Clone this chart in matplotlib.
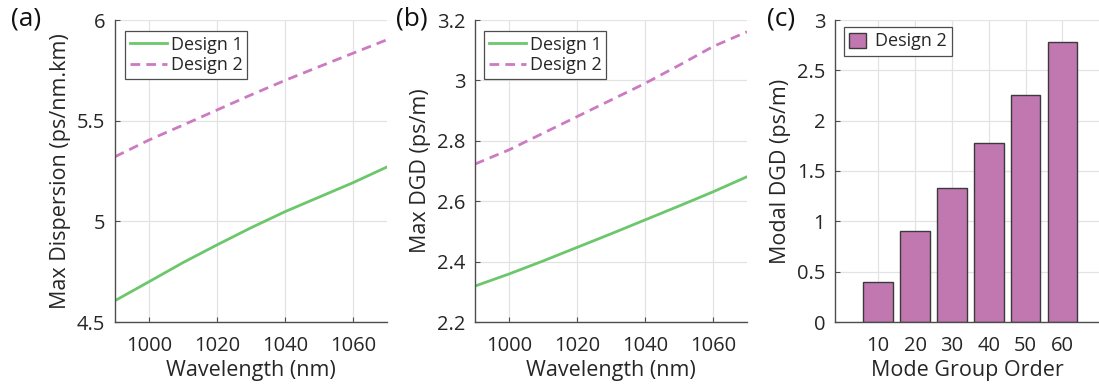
import matplotlib
matplotlib.use("Agg")
import matplotlib.pyplot as plt
from matplotlib.ticker import FormatStrFormatter, FixedLocator

# ---- data ----
wavelength = [990, 1000, 1010, 1020, 1030, 1040, 1050, 1060, 1070]
disp_design1 = [4.606, 4.700, 4.795, 4.883, 4.968, 5.048, 5.120, 5.192, 5.270]
disp_design2 = [5.321, 5.404, 5.478, 5.553, 5.628, 5.700, 5.768, 5.835, 5.902]
dgd_design1 = [2.319, 2.359, 2.402, 2.447, 2.492, 2.538, 2.584, 2.631, 2.681]
dgd_design2 = [2.723, 2.770, 2.825, 2.880, 2.935, 2.990, 3.050, 3.112, 3.161]
mode_group = [10, 20, 30, 40, 50, 60]
modal_dgd = [0.394, 0.907, 1.334, 1.778, 2.252, 2.778]

GREEN = "#6cc76c"
PINK = "#cc7ac2"
BAR = "#c178b0"
TXT = "#262626"
AX = "#4d4d4d"

plt.rcParams["font.family"] = ["Open Sans", "DejaVu Sans"]
plt.rcParams["text.color"] = TXT
plt.rcParams["axes.labelcolor"] = TXT

TICK_FS = 14.5
LABEL_FS = 15.5
LEG_FS = 13

W, H = 1099, 386
fig = plt.figure(figsize=(W / 100, H / 100), dpi=100)


def make_ax(left, right, top=20, bottom=322):
    return fig.add_axes([left / W, (H - bottom) / H, (right - left) / W, (bottom - top) / H])


def style(ax):
    for s in ("top", "right"):
        ax.spines[s].set_visible(False)
    for s in ("left", "bottom"):
        ax.spines[s].set_color(AX)
        ax.spines[s].set_linewidth(1.0)
    ax.grid(True, color="#e3e3e3", linewidth=0.9)
    ax.set_axisbelow(True)
    ax.tick_params(direction="in", length=3.5, width=0.8, colors=AX,
                   labelcolor=TXT, labelsize=TICK_FS)
    ax.tick_params(axis="x", pad=10)
    ax.tick_params(axis="y", pad=7)


def legend(ax, x, y):
    lg = ax.legend(loc="upper left", bbox_to_anchor=(x, y), fontsize=LEG_FS,
                   frameon=True, fancybox=False, edgecolor=AX, framealpha=1,
                   handlelength=2.1, handletextpad=0.2, borderpad=0.25,
                   labelspacing=0.15, borderaxespad=0)
    lg.get_frame().set_linewidth(0.9)


# (a)
ax1 = make_ax(115, 387)
style(ax1)
ax1.plot(wavelength, disp_design1, color=GREEN, lw=2, label="Design 1")
ax1.plot(wavelength, disp_design2, color=PINK, lw=2, ls=(0, (3.5, 2.2)), label="Design 2")
ax1.set_xlim(990, 1070)
ax1.set_ylim(4.5, 6)
ax1.xaxis.set_major_locator(FixedLocator([1000, 1020, 1040, 1060]))
ax1.yaxis.set_major_locator(FixedLocator([4.5, 5, 5.5, 6]))
ax1.yaxis.set_major_formatter(FormatStrFormatter("%g"))
ax1.set_xlabel("Wavelength (nm)", fontsize=LABEL_FS, labelpad=3)
ax1.set_ylabel("Max Dispersion (ps/nm.km)", fontsize=LABEL_FS, labelpad=4)
legend(ax1, (125 - 115) / 272, (322 - 31) / 302)

# (b)
ax2 = make_ax(475, 747)
style(ax2)
ax2.plot(wavelength, dgd_design1, color=GREEN, lw=2, label="Design 1")
ax2.plot(wavelength, dgd_design2, color=PINK, lw=2, ls=(0, (3.5, 2.2)), label="Design 2")
ax2.set_xlim(990, 1070)
ax2.set_ylim(2.2, 3.2)
ax2.xaxis.set_major_locator(FixedLocator([1000, 1020, 1040, 1060]))
ax2.yaxis.set_major_locator(FixedLocator([2.2, 2.4, 2.6, 2.8, 3.0, 3.2]))
ax2.yaxis.set_major_formatter(FormatStrFormatter("%g"))
ax2.set_xlabel("Wavelength (nm)", fontsize=LABEL_FS, labelpad=3)
ax2.set_ylabel("Max DGD (ps/m)", fontsize=LABEL_FS, labelpad=4)
legend(ax2, (484 - 475) / 272, (322 - 31) / 302)

# (c)
ax3 = make_ax(835, 1099)
style(ax3)
ax3.bar(mode_group, modal_dgd, width=8, color=BAR, edgecolor="#3a3a3a",
        linewidth=1.0, label="Design 2")
ax3.set_xlim(-1.7, 69.9)
ax3.set_ylim(0, 3)
ax3.xaxis.set_major_locator(FixedLocator(mode_group))
ax3.yaxis.set_major_locator(FixedLocator([0, 0.5, 1, 1.5, 2, 2.5, 3]))
ax3.yaxis.set_major_formatter(FormatStrFormatter("%g"))
ax3.set_xlabel("Mode Group Order", fontsize=LABEL_FS, labelpad=3)
ax3.set_ylabel("Modal DGD (ps/m)", fontsize=LABEL_FS, labelpad=4)
lg = ax3.legend(loc="upper left", bbox_to_anchor=((844 - 835) / 264, (322 - 27) / 302),
                fontsize=LEG_FS, frameon=True, fancybox=False, edgecolor=AX, framealpha=1,
                handlelength=0.9, handleheight=0.9, handletextpad=0.5, borderpad=0.3,
                borderaxespad=0)
lg.get_frame().set_linewidth(0.9)

# panel labels
for x, t in [(11, "(a)"), (396, "(b)"), (767, "(c)")]:
    fig.text(x / W, 1 - 7 / H, t, fontsize=19, va="top", ha="left", color="#111111")

fig.savefig("out.png", dpi=100)
